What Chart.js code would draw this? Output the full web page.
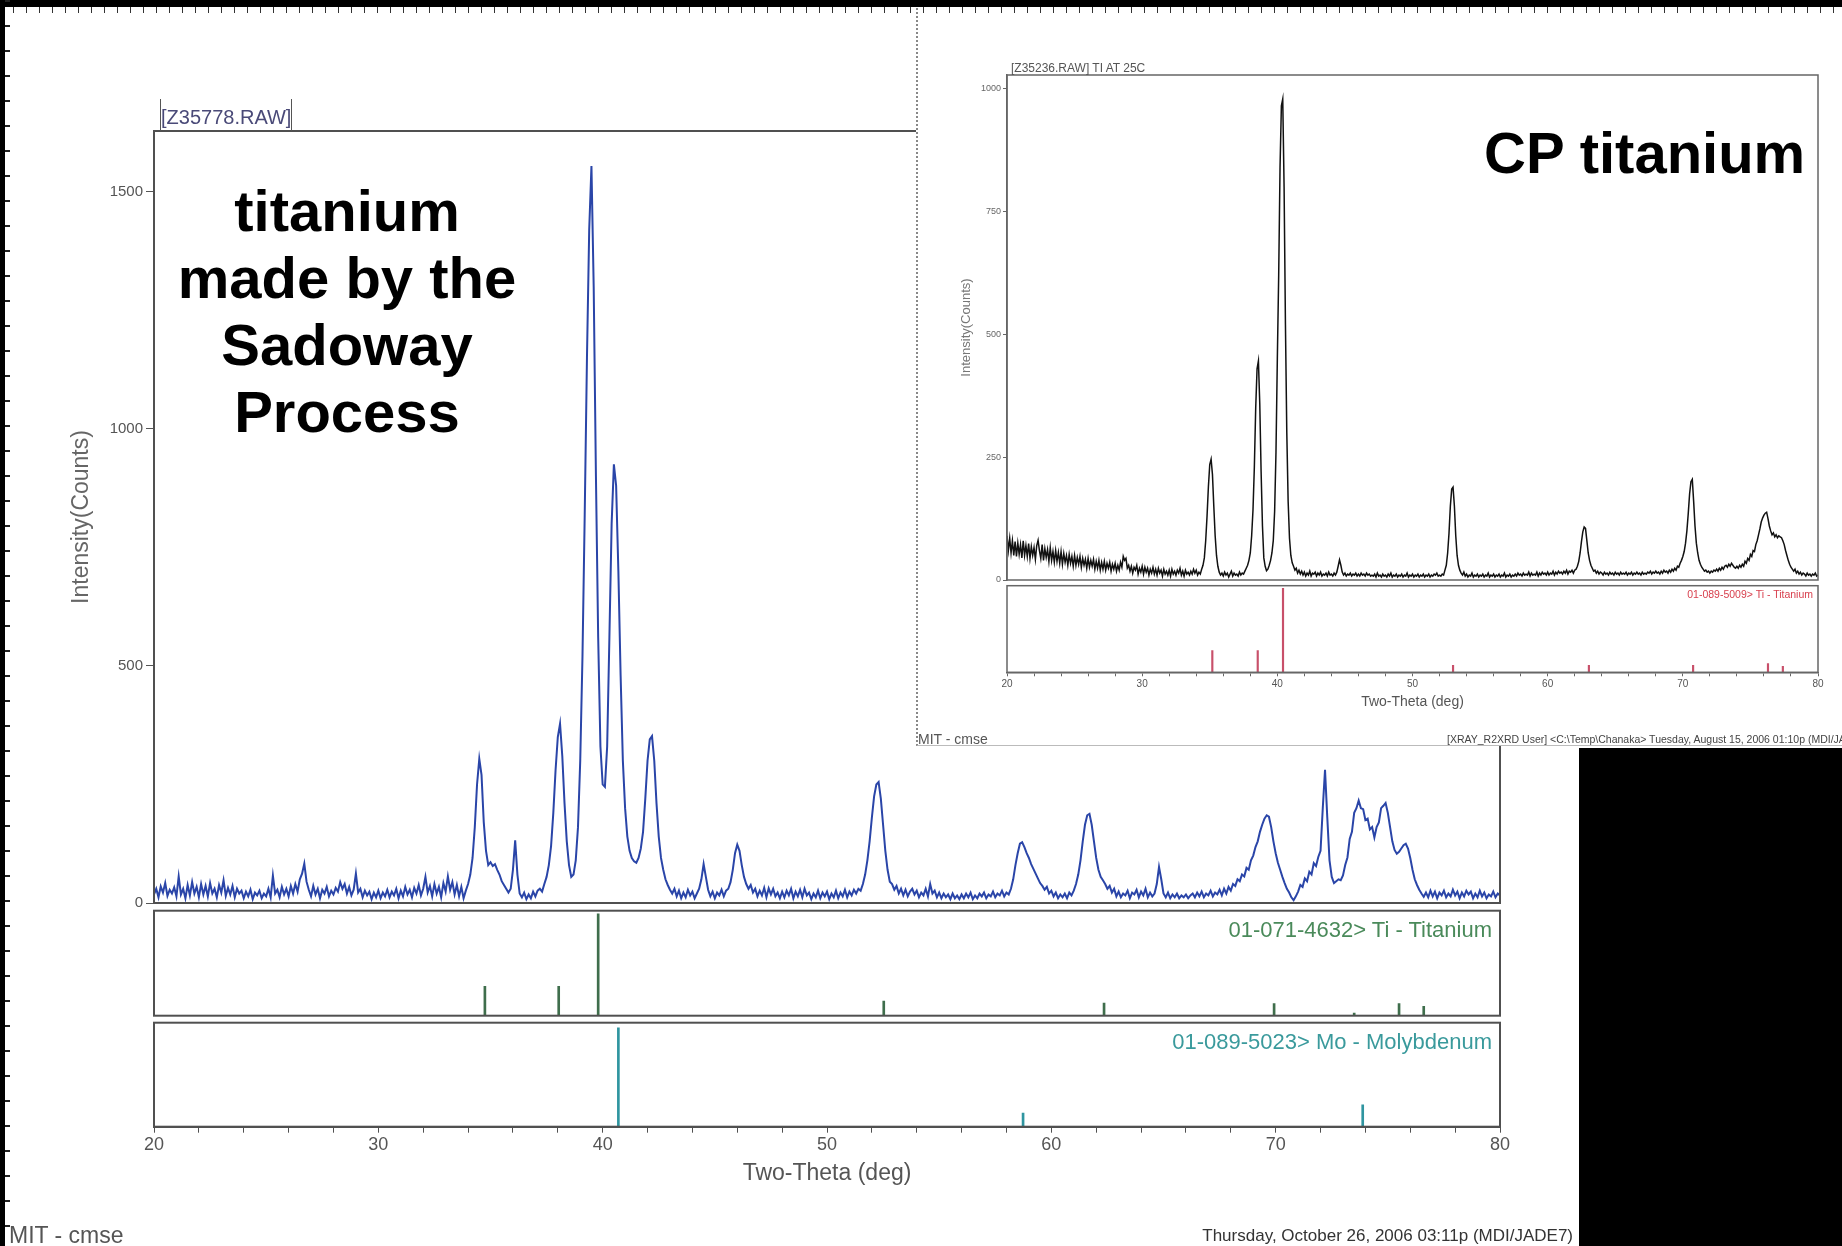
<!DOCTYPE html>
<html><head><meta charset="utf-8">
<script src="https://cdn.jsdelivr.net/npm/chart.js@4.4.1/dist/chart.umd.min.js"></script>
<style>
html,body{margin:0;padding:0;background:#fff;}
body{width:1842px;height:1246px;position:relative;overflow:hidden;font-family:'Liberation Sans',Arial,sans-serif;}
canvas{position:absolute;}
.t{position:absolute;white-space:nowrap;line-height:1;}
.mid{transform:translateY(-50%);}
</style></head><body>

<script>
// ---------------- DATA ----------------
// Main pattern (titanium made by the Sadoway Process): counts every 0.1 deg from 20 to 80
const mainStart = 20, mainStep = 0.1;
const mainCounts = [
 18,30,12,35,22,42,15,28,20,33,
 14,56,18,30,10,38,16,44,20,34,
 12,40,18,36,14,42,20,30,12,38,
 22,48,15,32,18,36,12,30,20,26,
 10,24,14,28,8,22,16,26,10,20,
 14,30,12,58,20,28,12,34,18,30,
 14,36,20,40,24,50,62,83,45,28,
 14,36,18,30,10,28,20,34,14,26,
 18,32,24,44,30,40,20,34,16,28,
 62,22,30,12,26,16,24,8,22,12,
 26,10,22,14,28,12,24,16,30,10,
 26,14,34,18,28,12,32,20,38,16,
 30,55,22,36,14,40,20,34,12,42,
 24,56,28,44,18,38,14,34,10,26,
 40,60,95,160,250,304,270,170,110,80,
 86,78,82,70,60,46,38,30,22,30,
 70,132,60,20,12,22,8,18,10,24,
 14,26,30,24,40,55,80,120,190,280,
 350,378,310,210,130,80,55,60,90,160,
 300,520,820,1150,1420,1554,1300,900,560,330,
 250,245,330,560,800,925,880,700,480,300,
 200,140,110,95,88,85,95,115,150,220,
 300,345,352,300,210,140,95,70,50,38,
 28,20,30,14,26,10,22,12,28,16,
 24,10,20,30,50,82,55,28,14,24,
 10,22,16,28,14,26,30,44,70,105,
 123,110,80,55,40,30,38,22,30,14,
 26,16,32,12,31,18,30,14,22,10,
 24,12,26,16,30,10,24,14,28,12,
 30,16,22,8,20,12,26,10,22,14,
 24,8,20,12,26,10,22,14,28,12,
 24,16,28,20,30,26,40,60,90,130,
 180,225,250,255,220,165,110,70,45,40,
 28,36,20,30,16,28,14,24,30,18,
 26,12,22,16,30,14,40,20,26,12,
 22,10,20,12,18,8,20,10,16,8,
 18,10,20,12,22,8,16,10,20,14,
 22,10,18,14,24,12,20,16,26,14,
 22,18,30,50,80,105,125,128,118,105,
 95,82,72,62,52,42,36,28,34,20,
 26,14,22,10,18,12,20,10,22,16,
 26,40,60,90,130,165,185,188,165,130,
 95,70,55,48,40,30,36,22,30,14,
 24,12,20,16,26,10,22,18,28,12,
 24,16,30,12,22,14,20,40,76,50,
 20,12,22,10,18,12,20,10,16,12,
 18,10,16,20,12,22,14,24,12,20,
 16,26,14,22,18,28,16,30,20,34,
 26,40,36,50,46,60,56,74,70,90,
 100,118,130,150,165,178,185,182,160,130,
 105,85,70,55,42,30,22,12,6,14,
 24,38,34,52,46,66,60,84,78,97,
 110,200,281,181,90,55,42,46,50,48,
 58,80,96,135,150,190,200,216,200,198,
 175,178,155,160,138,160,170,200,205,211,
 190,160,130,112,104,108,115,122,125,115,
 95,70,50,38,28,20,13,22,12,26,
 14,24,10,22,16,26,12,20,14,28,
 16,24,10,22,14,26,18,24,10,20,
 12,26,14,22,10,18,14,24,12,20,
 16
];
// Reference pattern 01-071-4632> Ti - Titanium (relative intensity %)
const tiRefAngles  = [34.75, 38.04, 39.8, 52.53, 62.35, 69.93, 73.5, 75.5, 76.6];
const tiRefHeights = [28, 28, 97, 14, 12, 11.5, 2.5, 11.5, 9];
// Reference pattern 01-089-5023> Mo - Molybdenum
const moRefAngles  = [40.7, 58.74, 73.88];
const moRefHeights = [95, 13, 21];

// Inset pattern (CP titanium, Z35236.RAW): counts every 0.1 deg from 20 to 80
const insetStart = 20, insetStep = 0.1;
const insetCounts = [
 90,60,85,55,80,50,78,48,75,52,
 72,45,80,50,70,48,74,44,68,50,
 66,42,70,81,60,44,72,40,64,46,
 62,38,66,40,58,36,60,38,56,34,
 58,32,54,36,50,30,52,34,48,28,
 50,30,46,32,48,26,44,30,42,24,
 44,26,40,28,42,22,38,24,40,20,
 36,22,38,20,34,24,36,18,32,22,
 34,18,30,20,36,26,48,40,44,24,
 30,18,28,14,26,20,30,12,24,16,
 28,12,26,16,24,10,22,14,26,12,
 22,10,24,14,20,8,22,12,18,10,
 20,8,22,12,18,10,20,14,24,10,
 18,8,20,12,16,10,18,12,22,14,
 20,10,16,12,22,30,45,80,130,190,
 235,246,215,150,90,50,28,16,10,14,
 8,16,10,14,6,12,18,8,14,10,
 12,8,16,10,14,12,18,24,30,40,
 55,90,143,230,350,430,446,360,220,110,
 45,28,19,22,30,40,55,80,140,260,
 450,620,840,965,979,800,520,300,160,85,
 50,35,28,20,24,14,20,12,18,10,
 16,8,14,10,18,8,14,12,16,8,
 14,10,16,8,12,10,14,8,16,10,
 12,8,14,10,16,28,41,30,16,10,
 14,8,12,10,14,8,12,10,14,8,
 12,8,14,10,12,8,14,10,12,8,
 10,8,12,6,14,8,10,6,12,8,
 10,6,12,8,14,6,10,8,12,6,
 10,8,12,6,10,8,14,6,10,8,
 12,6,10,8,12,6,10,8,12,6,
 10,8,12,6,10,8,12,10,14,8,
 10,8,12,10,20,30,55,95,150,185,
 189,150,90,50,30,20,14,10,16,8,
 12,6,10,8,14,6,10,8,12,6,
 10,8,12,6,10,8,14,6,10,8,
 12,6,10,8,12,6,10,8,14,6,
 10,8,12,6,10,8,12,8,14,10,
 12,8,14,10,12,10,16,8,14,10,
 12,10,16,8,14,10,16,12,14,10,
 16,10,14,12,18,10,16,12,18,14,
 16,12,18,14,20,12,18,16,20,14,
 20,22,28,38,55,78,98,108,105,80,
 55,40,30,24,18,20,14,18,12,16,
 14,10,16,12,14,10,16,12,14,10,
 16,12,14,10,16,12,14,12,16,10,
 14,12,16,10,14,12,16,12,14,10,
 16,12,14,12,16,14,18,12,16,14,
 18,14,16,12,18,14,20,16,18,14,
 20,16,22,18,24,20,28,26,34,40,
 48,58,75,100,135,175,200,205,160,110,
 75,55,40,32,26,22,18,20,16,18,
 14,18,16,20,18,22,18,24,20,26,
 22,28,30,26,32,28,34,30,26,24,
 28,24,30,26,32,28,38,34,44,40,
 52,48,60,58,72,80,92,104,118,126,
 132,136,138,125,110,100,92,96,88,92,
 86,90,88,86,80,72,60,50,40,32,
 26,22,18,22,14,18,12,16,10,14,
 12,8,14,10,12,8,12,10,14,8,
 10
];
// Reference pattern 01-089-5009> Ti - Titanium (inset)
const insetRefAngles  = [35.19, 38.55, 40.42, 53.0, 63.05, 70.76, 76.3, 77.4];
const insetRefHeights = [25, 25, 97, 8, 8, 8, 10, 7];

// Tick values
const xTickValues = [20,22,24,26,28,30,32,34,36,38,40,42,44,46,48,50,52,54,56,58,60,62,64,66,68,70,72,74,76,78,80];
const mainYTicks  = [0, 500, 1000, 1500];
const insetYTicks = [0, 250, 500, 750, 1000];
</script>

<!-- main charts -->
<canvas id="cMain" width="1842" height="920" style="left:0;top:0;width:1842px;height:920px"></canvas>
<canvas id="cTi" width="1842" height="120" style="left:0;top:905px;width:1842px;height:120px"></canvas>
<canvas id="cMo" width="1842" height="228" style="left:0;top:1018px;width:1842px;height:228px"></canvas>

<div class="t" style="left:160px;top:99px;height:32px;border-left:1.5px solid #555;border-right:1.5px solid #555;padding:0;font-size:20px;line-height:36px;color:#4a4a78;">[Z35778.RAW]</div>
<div class="t" style="left:347px;top:311px;transform:translate(-50%,-50%);text-align:center;font-weight:bold;font-size:58px;line-height:67px;color:#000;">titanium<br>made by the<br>Sadoway<br>Process</div>
<div class="t mid" style="right:350px;top:930px;font-size:22px;color:#4a8a5a;">01-071-4632&gt; Ti - Titanium</div>
<div class="t mid" style="right:350px;top:1042px;font-size:22px;color:#3a9a9c;">01-089-5023&gt; Mo - Molybdenum</div>
<div class="t mid" style="left:9px;top:1235px;font-size:23px;color:#555;">MIT - cmse</div>
<div class="t mid" style="right:269px;top:1235px;font-size:17px;color:#333;">Thursday, October 26, 2006 03:11p (MDI/JADE7)</div>

<!-- inset panel -->
<div style="position:absolute;left:916px;top:0;width:926px;height:746px;background:#fff;border-left:2px dotted #888;border-bottom:1px solid #bbb;box-sizing:border-box;"></div>
<canvas id="cInset" width="926" height="594" style="left:916px;top:0;width:926px;height:594px"></canvas>
<canvas id="cInsetRef" width="926" height="164" style="left:916px;top:582px;width:926px;height:164px"></canvas>
<div class="t mid" style="left:1011px;top:68px;font-size:12px;color:#555;">[Z35236.RAW] TI AT 25C</div>
<div class="t mid" style="left:1484px;top:153px;font-weight:bold;font-size:58px;color:#000;">CP titanium</div>
<div class="t mid" style="right:29px;top:594px;font-size:10.5px;color:#d8404e;">01-089-5009&gt; Ti - Titanium</div>
<div class="t mid" style="left:918px;top:739px;font-size:14px;color:#555;">MIT - cmse</div>
<div class="t mid" style="left:1447px;top:739px;font-size:10.5px;color:#444;">[XRAY_R2XRD User] &lt;C:\Temp\Chanaka&gt; Tuesday, August 15, 2006 01:10p (MDI/JADE7)</div>

<!-- black block and ruler edges -->
<div style="position:absolute;left:1579px;top:748px;width:263px;height:498px;background:#000;"></div>
<div style="position:absolute;left:0;top:0;width:1842px;height:7px;background:#000;"></div>
<div style="position:absolute;left:0;top:7px;width:1842px;height:6px;background:repeating-linear-gradient(to right,#333 0 1px,transparent 1px 13px);"></div>
<div style="position:absolute;left:0;top:0;width:5px;height:1246px;background:#000;"></div>
<div style="position:absolute;left:5px;top:0;width:5px;height:1246px;background:repeating-linear-gradient(to bottom,#222 0 2px,transparent 2px 25px);"></div>

<script>
const FONT = "'Liberation Sans', Arial, sans-serif";
Chart.defaults.font.family = FONT;

const framePlugin = {
  id: 'frame',
  afterDatasetsDraw(chart, args, opts) {
    const a = chart.chartArea, ctx = chart.ctx;
    ctx.save();
    ctx.strokeStyle = opts.color || '#555';
    ctx.lineWidth = opts.width || 2;
    ctx.strokeRect(a.left, a.top, a.right - a.left, a.bottom - a.top);
    ctx.restore();
  }
};

function toPoints(start, step, arr) {
  return arr.map((v, i) => ({ x: +(start + i * step).toFixed(2), y: v }));
}
function toSticks(angles, heights) {
  return angles.map((a, i) => ({ x: a, y: heights[i] }));
}
const plainNum = v => String(v);
const baseOpts = {
  responsive: false, animation: false, events: [],
  plugins: { legend: { display: false }, tooltip: { enabled: false } }
};

// ---- main pattern ----
new Chart(document.getElementById('cMain'), {
  type: 'line',
  data: { datasets: [{ data: toPoints(mainStart, mainStep, mainCounts), borderColor: '#2a45a8', borderWidth: 2, pointRadius: 0, tension: 0 }] },
  options: Object.assign({}, baseOpts, {
    layout: { padding: { top: 131, right: 342, bottom: 17, left: 0 } },
    plugins: Object.assign({}, baseOpts.plugins, { frame: { color: '#505050', width: 2 } }),
    scales: {
      x: { type: 'linear', min: 20, max: 80, display: false },
      y: {
        min: 0, max: 1628,
        afterFit(axis) { axis.width = 154; },
        afterBuildTicks(axis) { axis.ticks = mainYTicks.map(v => ({ value: v })); },
        ticks: { font: { size: 15 }, color: '#555', padding: 3, callback: plainNum },
        grid: { drawOnChartArea: false, tickLength: 8, color: '#555' },
        border: { display: true, color: '#505050', width: 2 },
        title: { display: true, text: 'Intensity(Counts)', font: { size: 23 }, color: '#666', padding: { top: 68, bottom: 0 } }
      }
    }
  }),
  plugins: [framePlugin]
});

// ---- main Ti reference sticks ----
new Chart(document.getElementById('cTi'), {
  type: 'bar',
  data: { datasets: [{ data: toSticks(tiRefAngles, tiRefHeights), backgroundColor: '#3f6e4c', barThickness: 2 }] },
  options: Object.assign({}, baseOpts, {
    layout: { padding: { top: 5.7, right: 342, bottom: 9.3, left: 154 } },
    plugins: Object.assign({}, baseOpts.plugins, { frame: { color: '#505050', width: 2 } }),
    scales: {
      x: { type: 'linear', min: 20, max: 80, offset: false, display: false },
      y: { min: 0, max: 100, display: false }
    }
  }),
  plugins: [framePlugin]
});

// ---- main Mo reference sticks + x axis ----
new Chart(document.getElementById('cMo'), {
  type: 'bar',
  data: { datasets: [{ data: toSticks(moRefAngles, moRefHeights), backgroundColor: '#2f95a0', barThickness: 2 }] },
  options: Object.assign({}, baseOpts, {
    layout: { padding: { top: 4.7, right: 342, bottom: 0, left: 154 } },
    plugins: Object.assign({}, baseOpts.plugins, { frame: { color: '#505050', width: 2 } }),
    scales: {
      x: {
        type: 'linear', min: 20, max: 80, offset: false,
        afterFit(axis) { axis.height = 119.3; },
        afterBuildTicks(axis) { axis.ticks = xTickValues.map(v => ({ value: v })); },
        ticks: { autoSkip: false, maxRotation: 0, font: { size: 18 }, color: '#555', padding: 2,
                 callback: v => (v % 10 === 0 ? String(v) : '') },
        grid: { drawOnChartArea: false, tickLength: 6, color: '#505050', offset: false },
        border: { display: true, color: '#505050', width: 2 },
        title: { display: true, text: 'Two-Theta (deg)', font: { size: 23 }, color: '#555', padding: { top: 0, bottom: 59 } }
      },
      y: { min: 0, max: 100, display: false }
    }
  }),
  plugins: [framePlugin]
});

// ---- inset pattern ----
new Chart(document.getElementById('cInset'), {
  type: 'line',
  data: { datasets: [{ data: toPoints(insetStart, insetStep, insetCounts), borderColor: '#111', borderWidth: 1.5, pointRadius: 0, tension: 0 }] },
  options: Object.assign({}, baseOpts, {
    layout: { padding: { top: 75, right: 24, bottom: 14, left: 0 } },
    plugins: Object.assign({}, baseOpts.plugins, { frame: { color: '#666', width: 1.5 } }),
    scales: {
      x: { type: 'linear', min: 20, max: 80, display: false },
      y: {
        min: 0, max: 1028,
        afterFit(axis) { axis.width = 91; },
        afterBuildTicks(axis) { axis.ticks = insetYTicks.map(v => ({ value: v })); },
        ticks: { font: { size: 9 }, color: '#666', padding: 2, callback: plainNum },
        grid: { drawOnChartArea: false, tickLength: 4, color: '#666' },
        border: { display: true, color: '#666', width: 1.5 },
        title: { display: true, text: 'Intensity(Counts)', font: { size: 13 }, color: '#777', padding: { top: 43, bottom: 0 } }
      }
    }
  }),
  plugins: [framePlugin]
});

// ---- inset reference sticks + x axis ----
new Chart(document.getElementById('cInsetRef'), {
  type: 'bar',
  data: { datasets: [{ data: toSticks(insetRefAngles, insetRefHeights), backgroundColor: '#c8506a', barThickness: 1.5 }] },
  options: Object.assign({}, baseOpts, {
    layout: { padding: { top: 3.7, right: 24, bottom: 0, left: 91 } },
    plugins: Object.assign({}, baseOpts.plugins, { frame: { color: '#666', width: 1.5 } }),
    scales: {
      x: {
        type: 'linear', min: 20, max: 80, offset: false,
        afterFit(axis) { axis.height = 73.7; },
        afterBuildTicks(axis) { axis.ticks = xTickValues.map(v => ({ value: v })); },
        ticks: { autoSkip: false, maxRotation: 0, font: { size: 10 }, color: '#555', padding: 2,
                 callback: v => (v % 10 === 0 ? String(v) : '') },
        grid: { drawOnChartArea: false, tickLength: 4, color: '#666', offset: false },
        border: { display: true, color: '#666', width: 1.5 },
        title: { display: true, text: 'Two-Theta (deg)', font: { size: 14 }, color: '#555', padding: { top: 0, bottom: 35 } }
      },
      y: { min: 0, max: 100, display: false }
    }
  }),
  plugins: [framePlugin]
});
</script>
</body></html>
